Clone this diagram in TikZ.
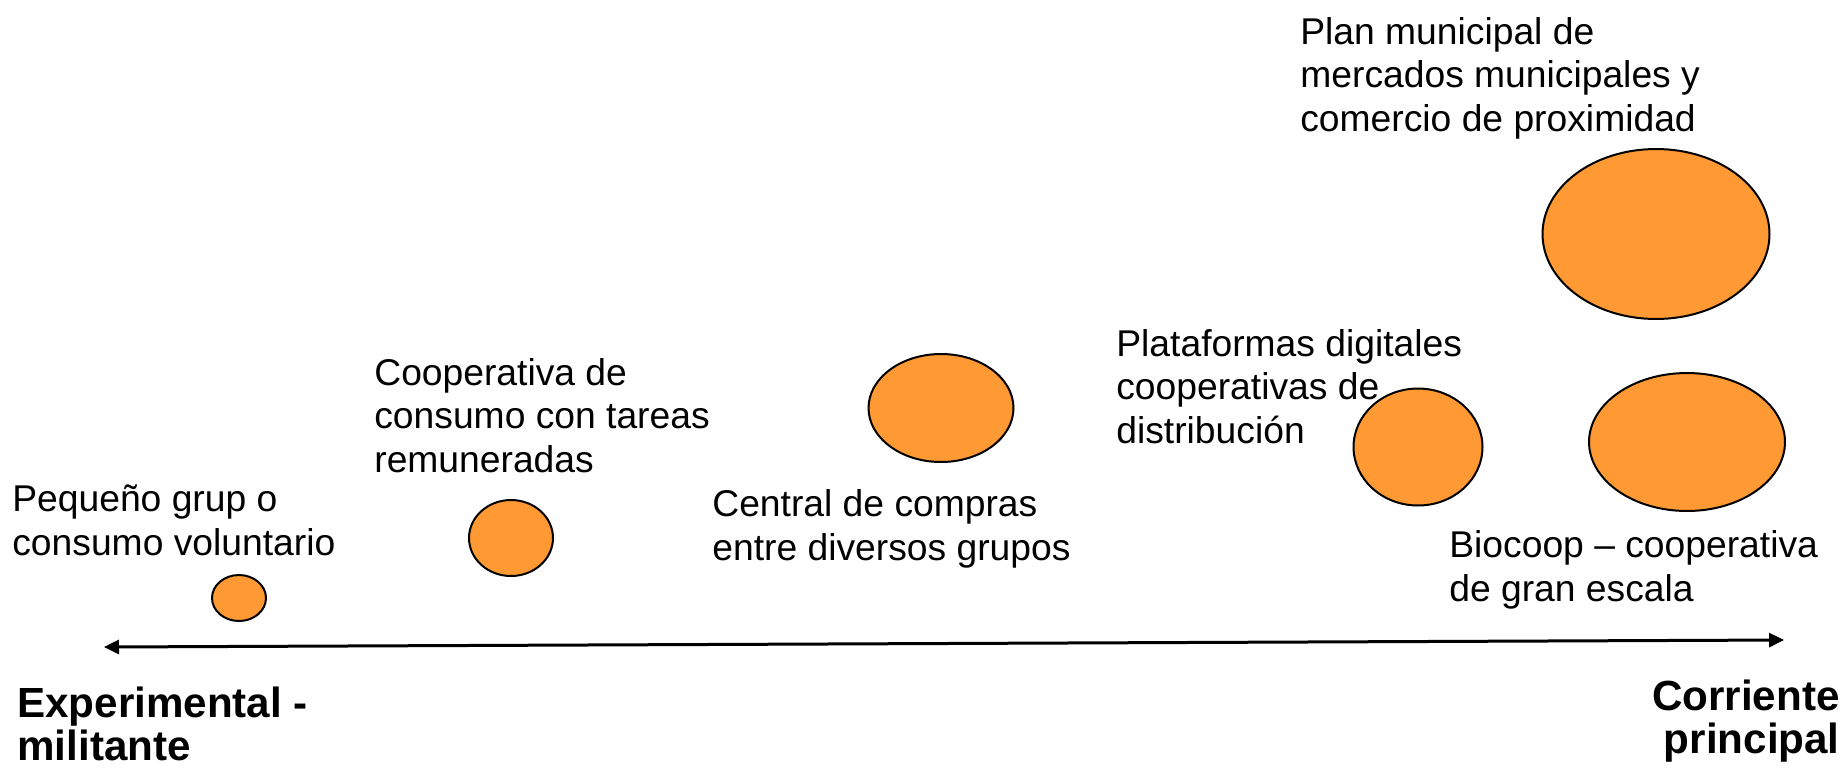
\documentclass[tikz,border=0pt]{standalone}
\usepackage{fontspec}
\setmainfont{Liberation Sans}
\usetikzlibrary{shapes.geometric,arrows.meta,positioning}
\definecolor{bubbleorange}{RGB}{255,153,51}

\begin{document}
\begin{tikzpicture}[x=0.02cm, y=-0.02cm,
                    bubble node/.style={ellipse,draw,fill=bubbleorange,line width=0.04cm,inner sep=0pt},
                    text node/.style={anchor=base west,align=left,inner sep=0pt,font=\fontsize{21.2}{24.5}\selectfont},
                    end node/.style={inner sep=0pt,font=\fontsize{24}{24}\selectfont\bfseries}]

  \useasboundingbox (0,0) rectangle (1845,772);

  \node[bubble node,minimum width=1.08cm,minimum height=0.92cm] (1) at (239,598) {};
  \node[bubble node,minimum width=1.68cm,minimum height=1.52cm] (2) at (511,538) {};
  \node[bubble node,minimum width=2.90cm,minimum height=2.16cm] (3) at (941,408) {};
  \node[bubble node,minimum width=2.58cm,minimum height=2.34cm] (4) at (1418,447) {};
  \node[bubble node,minimum width=3.92cm,minimum height=2.76cm] (5) at (1687,442) {};
  \node[bubble node,minimum width=4.54cm,minimum height=3.40cm] (6) at (1656,234) {};

  \node[text node] (t1) at (12,555) {Pequeño grup o\\consumo voluntario};
  \node[text node] (t2) at (374,472) {Cooperativa de\\consumo con tareas\\remuneradas};
  \node[text node] (t3) at (712,560) {Central de compras\\entre diversos grupos};
  \node[text node] (t4) at (1116,443) {Plataformas digitales\\cooperativas de\\distribución};
  \node[text node] (t6) at (1300,131) {Plan municipal de\\mercados municipales y\\comercio de proximidad};
  \node[text node] (t5) at (1449,601) {Biocoop – cooperativa\\de gran escala};

  \coordinate (left end) at (104,647);
  \coordinate (right end) at (1784,640);
  \draw[line width=0.06cm,{Triangle[length=0.3cm,width=0.28cm]}-{Triangle[length=0.3cm,width=0.28cm]}] (left end) -- (right end);

  \node[end node,anchor=base west,align=left] (exp) at (17,760) {Experimental -\\militante};
  \node[end node,anchor=base east,align=right] (main) at (1840,753) {Corriente\\principal};

\end{tikzpicture}
\end{document}
